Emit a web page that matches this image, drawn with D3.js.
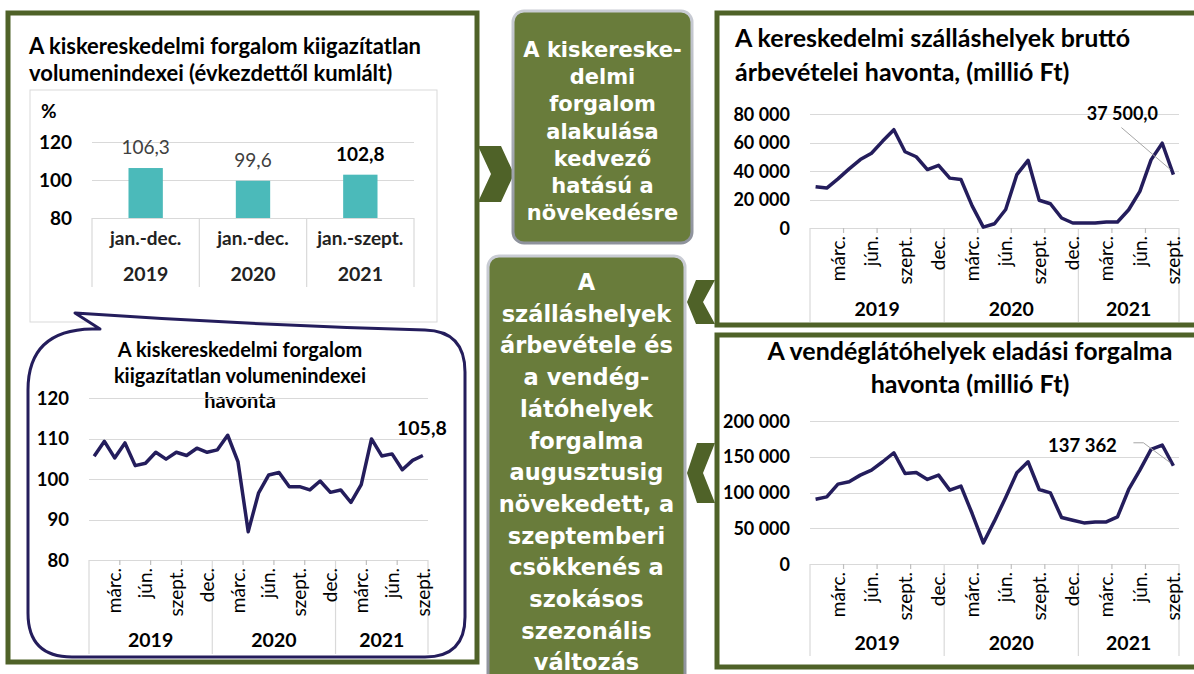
<!DOCTYPE html>
<html><head><meta charset="utf-8">
<script src="https://cdn.jsdelivr.net/npm/d3@7"></script>
<style>
body{margin:0;background:#fff;}
svg{display:block;font-family:Lato,"Open Sans",sans-serif;}
</style>
</head><body>
<svg id="c" width="1194" height="674"></svg>
<script>
// ---------------- DATA ----------------
const barCategories = ["jan.-dec.", "jan.-dec.", "jan.-szept."];
const barYears = ["2019", "2020", "2021"];
const barValues = [106.3, 99.6, 102.8];
const barBold = [false, false, true];
const barTicks = [80, 100, 120];

const monthNames = ["jan.","febr.","márc.","ápr.","máj.","jún.","júl.","aug.","szept.","okt.","nov.","dec."];
const years = ["2019", "2020", "2021"];
const monthsPerYear = [12, 12, 9];

const retailIndex = [105.6,109.3,105.2,108.9,103.3,103.9,106.6,104.9,106.6,105.8,107.6,106.6,
  107.2,110.8,104.3,87.0,96.5,101.0,101.6,98.1,98.1,97.3,99.5,96.7,
  97.3,94.2,98.6,109.9,105.7,106.2,102.3,104.6,105.8];
const retailTicks = [80, 90, 100, 110, 120];

const hotelRevenue = [29000,28000,34500,41500,48000,52500,61000,69000,53500,50000,41000,44000,
  35000,34000,15500,600,3000,13000,37500,47500,19500,17000,7000,3500,
  3500,3500,4200,4200,12800,25700,47800,59500,37500];
const hotelTicks = [0, 20000, 40000, 60000, 80000];

const restaurantSales = [90600,93900,111700,115000,124300,131300,143000,155600,126600,128000,118200,124300,
  103300,108900,70600,29400,60300,93000,127600,143000,104200,99500,65000,61200,
  57500,58900,58900,65900,104200,131300,160300,166400,137362];
const restaurantTicks = [0, 50000, 100000, 150000, 200000];

const titleRetailBars = ["A kiskereskedelmi forgalom kiigazítatlan", "volumenindexei (évkezdettől kumlált)"];
const titleRetailMonthly = ["A kiskereskedelmi forgalom", "kiigazítatlan volumenindexei", "havonta"];
const titleHotel = ["A kereskedelmi szálláshelyek bruttó", "árbevételei havonta, (millió Ft)"];
const titleRestaurant = ["A vendéglátóhelyek eladási forgalma", "havonta (millió Ft)"];
const box1Lines = ["A kiskereske-","delmi","forgalom","alakulása","kedvező","hatású a","növekedésre"];
const box2Lines = ["A","szálláshelyek","árbevétele és","a vendég-","látóhelyek","forgalma","augusztusig","növekedett, a","szeptemberi","csökkenés a","szokásos","szezonális","változás"];

// ---------------- SETUP ----------------
const hu = d3.formatLocale({decimal: ",", thousands: " ", grouping: [3], currency: ["", " Ft"]});
const fmtThousands = hu.format(",.0f");
const fmt1 = hu.format(",.1f");

const svg = d3.select("#c");
const GREEN = "#4f6228", BOXFILL = "#697c3b", NAVY = "#241d5c", GRID = "#d9d9d9", TEAL = "#4bbaba";

svg.append("rect").attr("width", 1194).attr("height", 674).attr("fill", "#fff");

// panels
function panel(x, y, w, h) {
  svg.append("rect").attr("x", x).attr("y", y).attr("width", w).attr("height", h)
    .attr("fill", "#fff").attr("stroke", GREEN).attr("stroke-width", 5);
}
panel(8, 13, 469, 649);
panel(717, 13, 490, 312);
panel(717, 335, 490, 332);

// chevrons
function chevron(points) {
  svg.append("polygon").attr("points", points.map(p => p.join(",")).join(" ")).attr("fill", GREEN);
}
chevron([[478,146],[501,146],[514,174],[501,202],[478,202],[491,174]]);
chevron([[715,280],[696,280],[687,302],[696,324],[715,324],[703,302]]);
chevron([[715,443],[697,443],[687,473],[697,503],[715,503],[703,473]]);

// center boxes
const defs = svg.append("defs");
const sg = defs.append("linearGradient").attr("id", "bstroke").attr("x1", 0).attr("y1", 0).attr("x2", 0).attr("y2", 1);
sg.append("stop").attr("offset", 0).attr("stop-color", "#c9ccd4");
sg.append("stop").attr("offset", 1).attr("stop-color", "#8e929c");
function textBox(x, y, w, h, lines, fs, firstBase, lh) {
  svg.append("rect").attr("x", x).attr("y", y).attr("width", w).attr("height", h).attr("rx", 11)
    .attr("fill", BOXFILL).attr("stroke", "url(#bstroke)").attr("stroke-width", 3);
  svg.append("g").selectAll("text").data(lines).join("text")
    .attr("x", x + w / 2).attr("y", (d, i) => firstBase + i * lh)
    .attr("text-anchor", "middle").attr("fill", "#fff")
    .style("font-family", "'DejaVu Sans',Verdana,sans-serif").style("font-weight", "bold").style("font-size", fs + "px")
    .text(d => d);
}
textBox(513, 11, 179, 232, box1Lines, 21, 57, 27.2);
textBox(488, 256, 197, 430, box2Lines, 22.5, 290, 31.7);

// ---------------- BAR CHART ----------------
svg.append("rect").attr("x", 30).attr("y", 90).attr("width", 407).attr("height", 232)
  .attr("fill", "#fff").attr("stroke", GRID).attr("stroke-width", 1);
function title(lines, x, y0, lh, anchor, fs) {
  svg.append("g").selectAll("text").data(lines).join("text")
    .attr("x", x).attr("y", (d, i) => y0 + i * lh).attr("text-anchor", anchor)
    .style("font-weight", "bold").style("font-size", fs + "px").attr("fill", "#000").text(d => d);
}
title(titleRetailBars, 29, 54, 27, "start", 22);
{
  const x0 = 92, x1 = 414, yTop = 142, yBot = 218;
  const y = d3.scaleLinear().domain([80, 120]).range([yBot, yTop]);
  const band = d3.scaleBand().domain(d3.range(barValues.length)).range([x0, x1]);
  const barBand = d3.scaleBand().domain(d3.range(barValues.length)).range([x0, x1]).paddingInner(0.68).paddingOuter(0.34);
  const g = svg.append("g");
  g.selectAll(".grid").data(barTicks).join("line")
    .attr("x1", x0).attr("x2", x1).attr("y1", d => y(d) + 0.5).attr("y2", d => y(d) + 0.5)
    .attr("stroke", GRID).attr("stroke-width", 1.2);
  g.selectAll(".tl").data(barTicks).join("text")
    .attr("x", x0 - 20).attr("y", d => y(d) + 7).attr("text-anchor", "end")
    .style("font-weight", "bold").style("font-size", "19px").text(d => d);
  g.append("text").attr("x", 41).attr("y", 118).style("font-weight", "bold").style("font-size", "19px").text("%");
  // separators
  const seps = d3.range(barValues.length + 1).map(i => i < barValues.length ? band(i) : x1);
  g.selectAll(".sep").data(seps).join("line")
    .attr("x1", d => d).attr("x2", d => d).attr("y1", yBot).attr("y2", 287)
    .attr("stroke", GRID).attr("stroke-width", 1.2);
  g.selectAll(".bar").data(barValues).join("rect")
    .attr("x", (d, i) => barBand(i)).attr("width", barBand.bandwidth())
    .attr("y", d => y(d)).attr("height", d => yBot - y(d)).attr("fill", TEAL);
  g.selectAll(".vl").data(barValues).join("text")
    .attr("x", (d, i) => barBand(i) + barBand.bandwidth() / 2)
    .attr("y", d => y(d) - 14).attr("text-anchor", "middle")
    .style("font-size", "19px").style("font-weight", (d, i) => barBold[i] ? "bold" : "normal")
    .attr("fill", (d, i) => barBold[i] ? "#000" : "#404040")
    .text(d => fmt1(d));
  g.selectAll(".cl").data(barCategories).join("text")
    .attr("x", (d, i) => band(i) + band.bandwidth() / 2).attr("y", 245).attr("text-anchor", "middle")
    .style("font-weight", "bold").style("font-size", "19px").attr("fill", "#222").text(d => d);
  g.selectAll(".yl").data(barYears).join("text")
    .attr("x", (d, i) => band(i) + band.bandwidth() / 2).attr("y", 281).attr("text-anchor", "middle")
    .style("font-weight", "bold").style("font-size", "19.5px").attr("fill", "#222").text(d => d);
}

// ---------------- SPEECH BUBBLE ----------------
svg.append("path")
  .attr("d", "M28,600 L28,390 Q28,330 92,329 L100,329 L75,313 Q250,325 425,330 Q465,331 465,372 L465,617 Q465,657 425,657 L72,657 Q28,657 28,613 Z")
  .attr("fill", "#fff").attr("stroke", NAVY).attr("stroke-width", 3).attr("stroke-linejoin", "round");
title(titleRetailMonthly, 240, 357, 25.5, "middle", 20);

// ---------------- LINE CHARTS ----------------
function lineChart(o) {
  const n = o.data.length;
  const x = d3.scaleBand().domain(d3.range(n)).range([o.x0, o.x1]);
  const y = d3.scaleLinear().domain([o.ticks[0], o.ticks[o.ticks.length - 1]]).range([o.yBot, o.yTop]);
  const g = svg.append("g");
  g.selectAll(".grid").data(o.ticks).join("line")
    .attr("x1", o.x0).attr("x2", o.x1).attr("y1", d => Math.round(y(d)) + 0.5).attr("y2", d => Math.round(y(d)) + 0.5)
    .attr("stroke", GRID).attr("stroke-width", 1.2);
  g.selectAll(".tl").data(o.ticks).join("text")
    .attr("x", o.x0 - 20).attr("y", d => y(d) + 6.5).attr("text-anchor", "end")
    .style("font-weight", "bold").style("font-size", o.tickFs + "px").text(d => o.fmt(d));
  // year boundaries
  const bounds = [0];
  monthsPerYear.forEach(m => bounds.push(bounds[bounds.length - 1] + m));
  const bx = k => k < n ? x(k) : o.x1;
  g.selectAll(".sep").data(bounds).join("line")
    .attr("x1", d => bx(d)).attr("x2", d => bx(d)).attr("y1", o.yBot).attr("y2", o.sepBot)
    .attr("stroke", GRID).attr("stroke-width", 1.2);
  const minor = d3.range(3, n, 3).filter(k => !bounds.includes(k));
  g.selectAll(".mt").data(minor).join("line")
    .attr("x1", d => bx(d)).attr("x2", d => bx(d)).attr("y1", o.yBot).attr("y2", o.yBot + 5)
    .attr("stroke", "#bfbfbf").attr("stroke-width", 1.2);
  // month labels
  const labIdx = d3.range(n).filter(i => [2, 5, 8, 11].includes(i % 12));
  g.selectAll(".ml").data(labIdx).join("text")
    .attr("transform", i => `translate(${x(i) + x.bandwidth() / 2 + o.monthFs * 0.35},${o.yBot + 8}) rotate(-90)`)
    .attr("text-anchor", "end")
    .style("font-size", o.monthFs + "px").text(i => monthNames[i % 12]);
  // year labels
  g.selectAll(".yl").data(years).join("text")
    .attr("x", (d, i) => (bx(bounds[i]) + bx(bounds[i + 1])) / 2).attr("y", o.yearY).attr("text-anchor", "middle")
    .style("font-weight", "bold").style("font-size", o.yearFs + "px").text(d => d);
  // line
  const line = d3.line().x((d, i) => x(i) + x.bandwidth() / 2).y(d => y(d));
  g.append("path").datum(o.data).attr("d", line).attr("fill", "none")
    .attr("stroke", NAVY).attr("stroke-width", 3.5).attr("stroke-linejoin", "round");
  // last-point label
  const li = n - 1, px = x(li) + x.bandwidth() / 2, py = y(o.data[li]);
  if (o.leader) {
    g.append("polyline").attr("points", o.leader.map(p => [px + p[0], py + p[1]].join(",")).join(" "))
      .attr("fill", "none").attr("stroke", "#a6a6a6").attr("stroke-width", 1);
  }
  g.append("text").attr("x", px + o.label[0]).attr("y", py + o.label[1]).attr("text-anchor", "middle")
    .style("font-weight", "bold").style("font-size", o.labelFs + "px").text(o.labelFmt(o.data[li]));
}

lineChart({data: retailIndex, ticks: retailTicks, x0: 89, x1: 428, yTop: 398, yBot: 560, sepBot: 654,
  fmt: d => d, tickFs: 18.5, monthFs: 19, yearFs: 19.5, yearY: 647,
  label: [-1, -21], labelFmt: fmt1, labelFs: 19.5});

title(titleHotel, 735, 47, 34, "start", 25);
lineChart({data: hotelRevenue, ticks: hotelTicks, x0: 810, x1: 1179, yTop: 114, yBot: 228, sepBot: 322,
  fmt: fmtThousands, tickFs: 18, monthFs: 19, yearFs: 19.5, yearY: 316,
  leader: [[-52, -47], [-3, -5]], label: [-51, -55], labelFmt: fmt1, labelFs: 18});

title(titleRestaurant, 970, 360, 33, "middle", 25);
lineChart({data: restaurantSales, ticks: restaurantTicks, x0: 810, x1: 1179, yTop: 421, yBot: 564, sepBot: 656,
  fmt: fmtThousands, tickFs: 18, monthFs: 19, yearFs: 19.5, yearY: 650,
  leader: [[-40, -23], [-30, -23], [-3, -3]], label: [-91, -14], labelFmt: fmtThousands, labelFs: 18.5});
</script>
</body></html>
